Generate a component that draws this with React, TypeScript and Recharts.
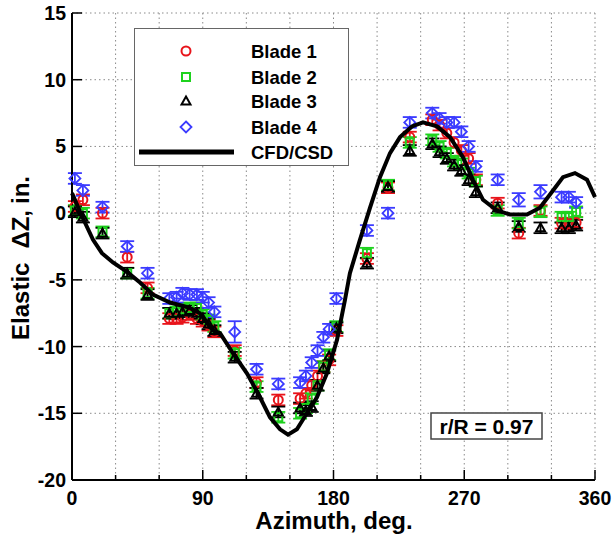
import React from 'react';
import { ScatterChart, Scatter, XAxis, YAxis, CartesianGrid, ErrorBar } from 'recharts';

// measured azimuth stations (deg), shared by the four blades
const AZIMUTH = [
  2, 7.5, 21, 38, 52,
  67, 72, 76, 81, 86, 90, 94, 98,
  112, 127, 142,
  157, 161, 165, 169, 173, 177, 182,
  203, 217.5, 232.5,
  248, 253, 258, 263, 268, 273, 278,
  293, 307.5, 322.5,
  337, 342, 347,
];

const BLADE_1 = [
  0.5, 1.0, 0.0, -3.3, -5.6,
  -7.9, -7.9, -7.8, -7.6, -7.9, -8.1, -8.4, -8.9,
  -10.3, -12.7, -14.0,
  -13.9, -13.5, -12.9, -12.2, -11.5, -11.0, -8.8,
  -3.4, 1.9, 5.7,
  7.0, 6.6, 6.0, 5.3, 4.7, 4.1, 2.5,
  0.75, -1.5, 0.2,
  -0.75, -0.8, -0.7,
];

const BLADE_2 = [
  0.2, 0.0, -1.4, -4.5, -6.0,
  -7.5, -7.4, -7.2, -7.1, -7.1, -7.6, -8.0, -8.5,
  -10.5, -13.0, -15.3,
  -15.0, -14.6, -13.9, -12.9, -11.5, -10.6, -8.5,
  -3.0, 2.1, 5.3,
  5.5, 5.0, 4.5, 3.9, 3.7, 3.0, 2.4,
  0.2, -0.75, 0.1,
  -0.3, -0.3, 0.1,
];

const BLADE_3 = [
  0.1, -0.3, -1.5, -4.5, -6.1,
  -7.5, -7.5, -7.4, -7.3, -7.5, -7.9, -8.3, -8.8,
  -10.8, -13.5, -14.9,
  -14.6, -14.8, -14.5, -12.9, -11.6, -10.7, -8.6,
  -3.75, 2.0, 4.7,
  5.2, 4.6, 4.1, 3.6, 3.2, 2.5, 1.6,
  0.4, -1.0, -1.1,
  -1.1, -1.1, -0.9,
];

const BLADE_4 = [
  2.6, 1.7, 0.45, -2.5, -4.5,
  -6.4, -6.3, -6.0, -6.1, -6.1, -6.3, -6.7, -7.4,
  -8.9, -11.7, -12.8,
  -12.7, -12.2, -11.2, -10.3, -9.3, -8.7, -6.4,
  -1.3, 0.0, 6.8,
  7.5, 7.1, 6.8, 6.8, 6.1, 5.0, 3.5,
  2.5, 1.0, 1.6,
  1.2, 1.2, 0.8,
];

// typical scatter band, plus the few wider ones on blade 4
const ERR = 0.4;
const BLADE_4_ERR: Record<number, number> = { 112: 0.8, 307.5: 0.5, 322.5: 0.5 };

// CFD/CSD prediction
const CFD_AZ = [
  0, 7.6, 14.5, 20.6, 28.2, 37.9, 46.8, 55.7, 67.5, 81.2,
  88, 97, 101.9, 110.8, 120.4, 128, 136.3, 143.2, 148.7, 154.8,
  161.7, 168.6, 175.5, 182.4, 187.9, 191.3, 198.2, 205.1, 212, 218.9,
  225.8, 234, 241.6, 251.2, 260.2, 269.1, 276, 282.9, 292.5, 301.5,
  313.2, 322.1, 331.1, 338, 346.2, 354.5, 360,
];
const CFD_DZ = [
  1.5, -0.4, -2.0, -3.0, -3.7, -4.4, -5.2, -6.1, -6.7, -7.1,
  -7.5, -8.8, -9.0, -10.5, -12.0, -13.5, -15.3, -16.2, -16.6, -16.2,
  -15.0, -13.8, -12.0, -9.5, -6.5, -4.5, -2.0, 0.4, 2.7, 4.5,
  5.7, 6.5, 6.8, 6.5, 5.7, 4.2, 2.5, 1.0, 0.2, -0.1,
  -0.1, 0.4, 1.7, 2.7, 3.0, 2.5, 1.2,
];

const X_TICKS = [0, 30, 60, 90, 120, 150, 180, 210, 240, 270, 300, 330, 360];
const Y_TICKS = [-20, -15, -10, -5, 0, 5, 10, 15];

const RED = '#e8141b';
const GREEN = '#1ed21e';
const BLUE = '#3b3bff';
const FONT = '"Liberation Sans", Arial, Helvetica, sans-serif';

const bladePoints = (vals: number[], errs?: Record<number, number>) =>
  AZIMUTH.map((az, i) => ({ az, dz: vals[i], err: errs && errs[az] ? errs[az] : ERR }));

const cfdPoints = CFD_AZ.map((az, i) => ({ az, dz: CFD_DZ[i] }));

const CircleMark = ({ cx, cy }: any) => (
  <circle cx={cx} cy={cy} r={4.5} fill="none" stroke={RED} strokeWidth={2} />
);
const SquareMark = ({ cx, cy }: any) => (
  <rect x={cx - 4} y={cy - 4} width={8} height={8} fill="none" stroke={GREEN} strokeWidth={2} />
);
const TriangleMark = ({ cx, cy }: any) => (
  <polygon
    points={`${cx},${cy - 4.5} ${cx + 4.5},${cy + 3.5} ${cx - 4.5},${cy + 3.5}`}
    fill="none"
    stroke="#000"
    strokeWidth={2}
  />
);
const DiamondMark = ({ cx, cy }: any) => (
  <polygon
    points={`${cx},${cy - 5.5} ${cx + 5.5},${cy} ${cx},${cy + 5.5} ${cx - 5.5},${cy}`}
    fill="none"
    stroke={BLUE}
    strokeWidth={1.8}
  />
);
const NoMark = () => <g />;

const XTick = ({ x, y, payload }: any) => {
  const major = payload.value % 90 === 0;
  return (
    <g>
      <line x1={x} y1={y} x2={x} y2={y - (major ? 10 : 5)} stroke="#000" strokeWidth={1.5} />
      {major && (
        <text x={x} y={y + 25} textAnchor="middle" fontFamily={FONT} fontWeight="bold" fontSize={19.5} fill="#000">
          {payload.value}
        </text>
      )}
    </g>
  );
};

const YTick = ({ x, y, payload }: any) => (
  <g>
    <line x1={x} y1={y} x2={x + 10} y2={y} stroke="#000" strokeWidth={1.5} />
    <text x={x - 6} y={y + 7} textAnchor="end" fontFamily={FONT} fontWeight="bold" fontSize={19.5} fill="#000">
      {payload.value}
    </text>
  </g>
);

const legendRows = [
  { label: 'Blade 1', y: 51, mark: <CircleMark cx={186} cy={51} /> },
  { label: 'Blade 2', y: 77, mark: <SquareMark cx={186} cy={77} /> },
  { label: 'Blade 3', y: 101, mark: <TriangleMark cx={186} cy={101} /> },
  { label: 'Blade 4', y: 127, mark: <DiamondMark cx={186} cy={127} /> },
];

export default function App() {
  return (
    <div style={{ position: 'absolute', left: 0, top: 0, width: 614, height: 540, background: '#fff' }}>
      <ScatterChart width={614} height={540} margin={{ top: 13, right: 19, bottom: 0, left: 0 }}>
        <CartesianGrid stroke="#8a8a8a" strokeDasharray="1.5 3" />
        <XAxis
          dataKey="az"
          type="number"
          domain={[0, 360]}
          ticks={X_TICKS}
          interval={0}
          height={60}
          tickSize={0}
          tickMargin={0}
          tick={<XTick />}
          axisLine={{ stroke: '#000', strokeWidth: 2 }}
        />
        <XAxis xAxisId="top" orientation="top" type="number" domain={[0, 360]} height={0} tick={false}
          axisLine={{ stroke: '#000', strokeWidth: 2 }} />
        <YAxis
          dataKey="dz"
          type="number"
          domain={[-20, 15]}
          ticks={Y_TICKS}
          interval={0}
          width={72}
          tickSize={0}
          tickMargin={0}
          tick={<YTick />}
          axisLine={{ stroke: '#000', strokeWidth: 2 }}
        />
        <YAxis yAxisId="right" orientation="right" type="number" domain={[-20, 15]} width={0} tick={false}
          axisLine={{ stroke: '#000', strokeWidth: 2 }} />

        <Scatter data={bladePoints(BLADE_1)} shape={<CircleMark />} isAnimationActive={false}>
          <ErrorBar dataKey="err" direction="y" width={7} stroke={RED} strokeWidth={1.8} />
        </Scatter>
        <Scatter data={bladePoints(BLADE_2)} shape={<SquareMark />} isAnimationActive={false}>
          <ErrorBar dataKey="err" direction="y" width={7} stroke={GREEN} strokeWidth={1.8} />
        </Scatter>
        <Scatter data={bladePoints(BLADE_3)} shape={<TriangleMark />} isAnimationActive={false}>
          <ErrorBar dataKey="err" direction="y" width={7} stroke="#000" strokeWidth={1.8} />
        </Scatter>
        <Scatter data={bladePoints(BLADE_4, BLADE_4_ERR)} shape={<DiamondMark />} isAnimationActive={false}>
          <ErrorBar dataKey="err" direction="y" width={7} stroke={BLUE} strokeWidth={1.8} />
        </Scatter>
        <Scatter
          data={cfdPoints}
          shape={<NoMark />}
          line={{ stroke: '#000', strokeWidth: 4 }}
          lineType="joint"
          isAnimationActive={false}
        />
      </ScatterChart>

      <svg width={614} height={540} style={{ position: 'absolute', left: 0, top: 0, pointerEvents: 'none' }}>
        <rect x={134.5} y={28.5} width={214} height={137} fill="#fff" stroke="#666" strokeWidth={1} />
        {legendRows.map((r) => (
          <g key={r.label}>
            {r.mark}
            <text x={251} y={r.y + 6.5} fontFamily={FONT} fontWeight="bold" fontSize={18.5} fill="#000">
              {r.label}
            </text>
          </g>
        ))}
        <line x1={139} y1={152} x2={234} y2={152} stroke="#000" strokeWidth={5} />
        <text x={251} y={158.5} fontFamily={FONT} fontWeight="bold" fontSize={18.5} fill="#000">
          CFD/CSD
        </text>

        <rect x={431} y={413} width={111} height={26} fill="#fff" stroke="#444" strokeWidth={1.5} />
        <text x={486.5} y={434} textAnchor="middle" fontFamily={FONT} fontWeight="bold" fontSize={21} fill="#000">
          r/R = 0.97
        </text>

        <text x={334} y={529} textAnchor="middle" fontFamily={FONT} fontWeight="bold" fontSize={24} fill="#000">
          Azimuth, deg.
        </text>
        <text
          x={0}
          y={0}
          transform="translate(29 258) rotate(-90)"
          textAnchor="middle"
          fontFamily={FONT}
          fontWeight="bold"
          fontSize={24}
          fill="#000"
        >
          Elastic<tspan dx={14}>ΔZ,</tspan><tspan dx={6}>in.</tspan>
        </text>
      </svg>
    </div>
  );
}
